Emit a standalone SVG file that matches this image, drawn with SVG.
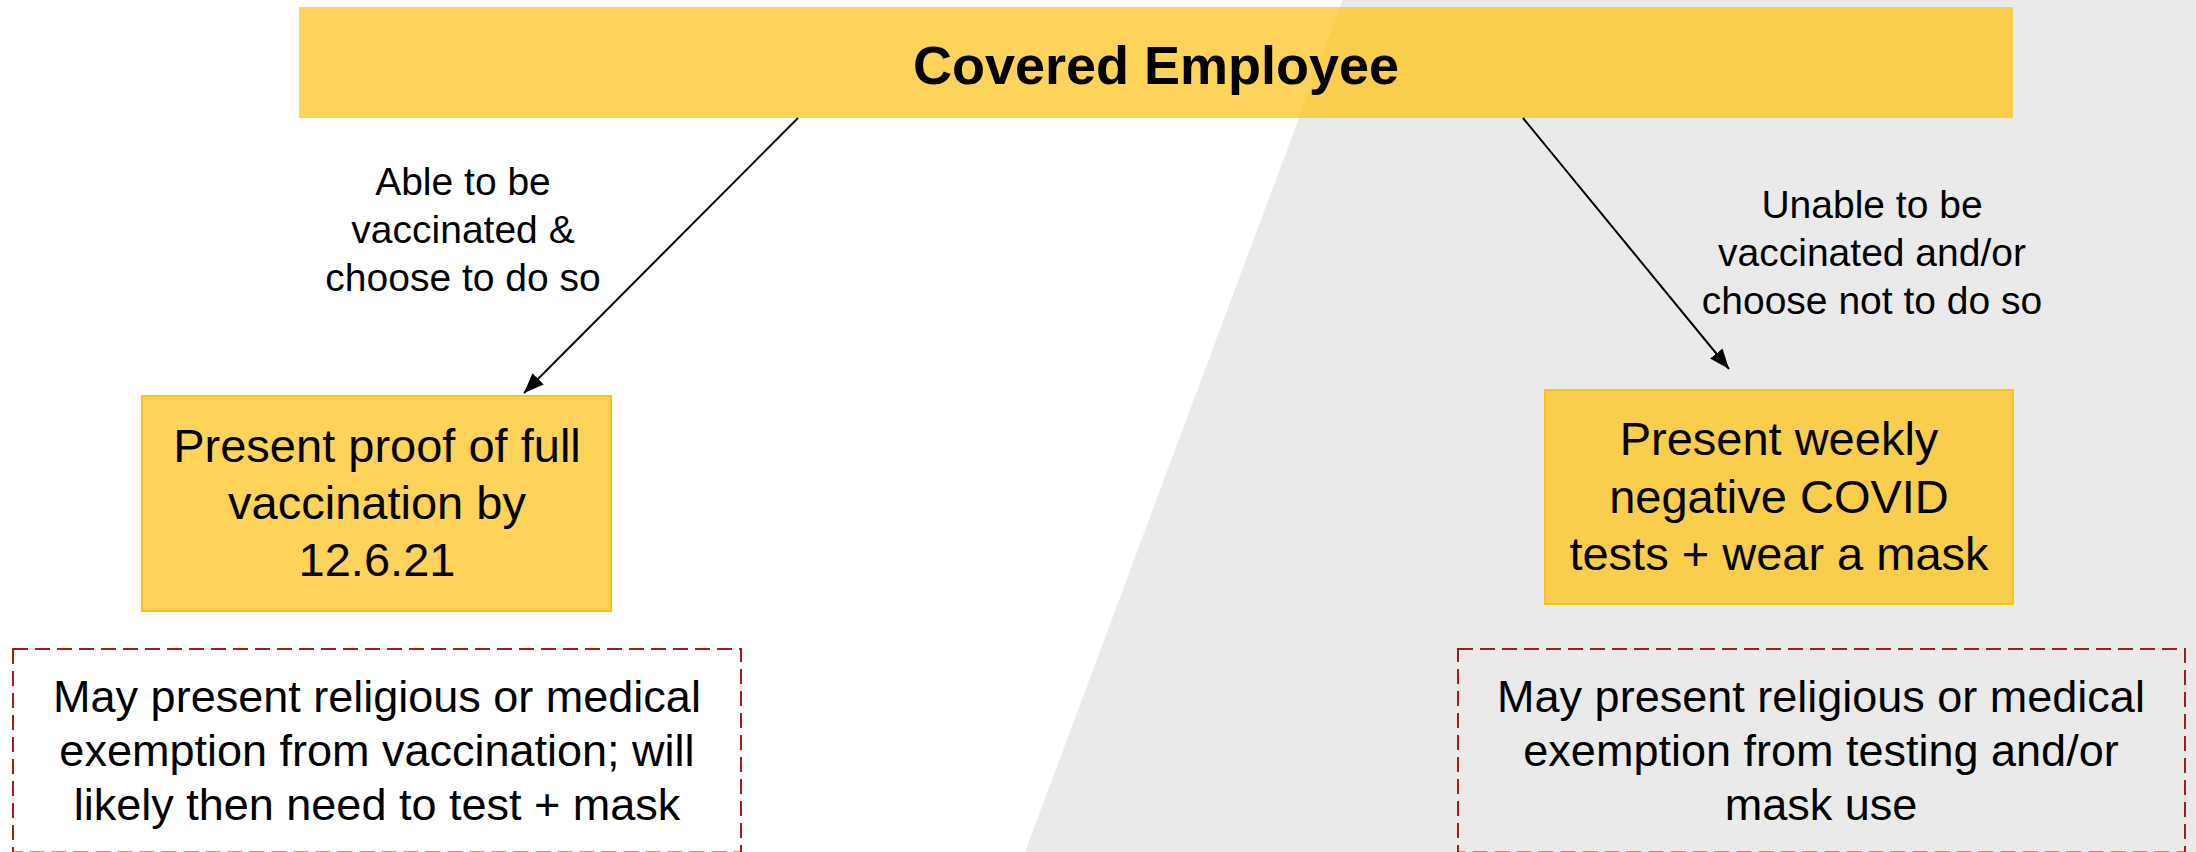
<svg xmlns="http://www.w3.org/2000/svg" width="2196" height="852" viewBox="0 0 2196 852">
  <defs>
    <style>
      .txt { font-family: "Liberation Sans", Arial, sans-serif; fill: #000; text-anchor: middle; }
      .title { font-size: 54px; font-weight: bold; }
      .label { font-size: 39px; }
      .step { font-size: 47px; }
      .note { font-size: 45px; }
      .box-l { fill: #FDD35A; stroke: #F9C11A; stroke-width: 2; }
      .box-r { fill: #F8CE4C; stroke: #F9C11A; stroke-width: 2; }
      .dashed { fill: none; stroke: #A61C1C; stroke-width: 2; stroke-dasharray: 15 7; }
      .conn { stroke: #000; stroke-width: 2; fill: none; marker-end: url(#arrow); }
    </style>
    <marker id="arrow" markerUnits="userSpaceOnUse" markerWidth="22" markerHeight="16" refX="20" refY="8" orient="auto">
      <path d="M0,0 L20,8 L0,16 Z" fill="#000"/>
    </marker>
    <clipPath id="shade-clip">
      <polygon points="1343,0 2196,0 2196,852 1025,852"/>
    </clipPath>
  </defs>

  <!-- background: white page with a slanted grey panel on the right -->
  <rect x="0" y="0" width="2196" height="852" fill="#FFFFFF"/>
  <polygon id="shade" points="1343,0 2196,0 2196,852 1025,852" fill="#EAEAEA"/>

  <!-- top node -->
  <g id="covered-employee">
    <rect x="299" y="7" width="1714" height="111" fill="#FDD35A"/>
    <rect x="299" y="7" width="1714" height="111" fill="#F8CE4C" clip-path="url(#shade-clip)"/>
    <text class="txt title" x="1156" y="84">Covered Employee</text>
  </g>

  <!-- connectors -->
  <g id="connectors">
    <line class="conn" x1="798" y1="118" x2="524" y2="393"/>
    <line class="conn" x1="1523" y1="118" x2="1729" y2="369"/>
    <g id="label-vaccinate">
      <text class="txt label" x="463" y="195">Able to be</text>
      <text class="txt label" x="463" y="243">vaccinated &amp;</text>
      <text class="txt label" x="463" y="291">choose to do so</text>
    </g>
    <g id="label-no-vaccine">
      <text class="txt label" x="1872" y="218">Unable to be</text>
      <text class="txt label" x="1872" y="266">vaccinated and/or</text>
      <text class="txt label" x="1872" y="314">choose not to do so</text>
    </g>
  </g>

  <!-- outcome: vaccination -->
  <g id="proof-of-vaccination">
    <rect class="box-l" x="142" y="396" width="469" height="215"/>
    <text class="txt step" x="377" y="462">Present proof of full</text>
    <text class="txt step" x="377" y="519">vaccination by</text>
    <text class="txt step" x="377" y="576">12.6.21</text>
  </g>

  <!-- outcome: testing -->
  <g id="weekly-testing">
    <rect class="box-r" x="1545" y="390" width="468" height="214"/>
    <text class="txt step" x="1779" y="455">Present weekly</text>
    <text class="txt step" x="1779" y="513">negative COVID</text>
    <text class="txt step" x="1779" y="570">tests + wear a mask</text>
  </g>

  <!-- exemption notes -->
  <g id="exemption-vaccination">
    <rect class="dashed" x="13" y="649" width="728" height="203.5"/>
    <text class="txt note" x="377" y="712">May present religious or medical</text>
    <text class="txt note" x="377" y="766">exemption from vaccination; will</text>
    <text class="txt note" x="377" y="820">likely then need to test + mask</text>
  </g>

  <g id="exemption-testing">
    <rect class="dashed" x="1458" y="649" width="727" height="203.5"/>
    <text class="txt note" x="1821" y="712">May present religious or medical</text>
    <text class="txt note" x="1821" y="766">exemption from testing and/or</text>
    <text class="txt note" x="1821" y="820">mask use</text>
  </g>
</svg>
